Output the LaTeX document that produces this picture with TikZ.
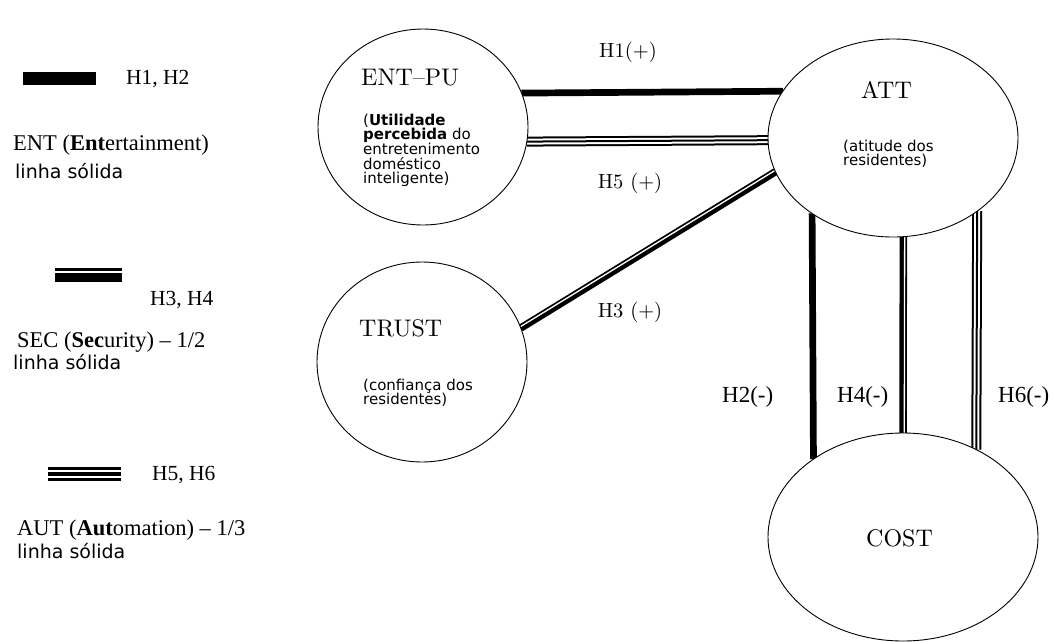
\documentclass[tikz,border=0pt]{standalone}
\usepackage{fontspec}
\newfontfamily\tms{Liberation Serif}
\newfontfamily\dvs{DejaVu Sans}
\newfontfamily\cmr{lmroman10-regular}[Extension=.otf, BoldFont=lmroman10-bold]
\usetikzlibrary{shapes.geometric,backgrounds}

% multi-line gloss whose baseline is that of its first line
\newcommand{\glosslines}[1]{\parbox[t]{200pt}{\raggedright\lineskiplimit=-50pt\relax #1}}

\tikzset{
  construct/.style={ellipse, draw=black, line width=0.9pt, fill=white, inner sep=0pt, outer sep=0pt},
  title/.style={anchor=base west, inner sep=0pt, font=\cmr\fontsize{24}{28}\selectfont},
  gloss/.style={anchor=base west, inner sep=0pt, font=\dvs\fontsize{15}{14.7}\selectfont},
  hyplabel/.style={anchor=base, inner sep=0pt, font=\cmr\fontsize{20.5}{24}\selectfont},
  neglabel/.style={anchor=base west, inner sep=0pt, font=\tms\fontsize{23}{27}\selectfont},
  legkey/.style={anchor=base west, inner sep=0pt, font=\tms\fontsize{21.5}{25}\selectfont},
  legname/.style={anchor=base west, inner sep=0pt, font=\tms\fontsize{22.5}{26}\selectfont},
  legnote/.style={anchor=base west, inner sep=0pt, font=\dvs\fontsize{19}{23}\selectfont},
  entline/.style={draw=black, line width=6.7pt},
  secline/.style={draw=black, line width=7.5pt},
  secgap/.style={draw=white, line width=1.3pt},
  autline/.style={draw=black, line width=10pt,
    postaction={draw=white, line width=6pt},
    postaction={draw=black, line width=2pt}},
}

\begin{document}
\begin{tikzpicture}[x=1pt, y=-1pt]
\useasboundingbox (0,0) rectangle (1053,641);

% ---- legend ----
\fill[black] (23,72) rectangle (96,85);
\node[legkey] (k1) at (126,84) {H1, H2};
\node[legname] (n1) at (13,150) {ENT (\textbf{Ent}ertainment)};
\node[legnote] (s1) at (15,178) {linha sólida};

\fill[black] (55,268) rectangle (122,282);
\fill[white] (55,270.5) rectangle (122,272.5);
\node[legkey] (k2) at (150,305) {H3, H4};
\node[legname] (n2) at (17,347) {SEC (\textbf{Sec}urity) – 1/2};
\node[legnote] (s2) at (13,369) {linha sólida};

\fill[black] (48,467) rectangle (121,481);
\fill[white] (48,470) rectangle (121,471.7);
\fill[white] (48,476.3) rectangle (121,478);
\node[legkey] (k3) at (152,480) {H5, H6};
\node[legname] (n3) at (17,535) {AUT (\textbf{Aut}omation) – 1/3};
\node[legnote] (s3) at (17,558) {linha sólida};

% ---- constructs ----
\node[construct, minimum width=210pt, minimum height=196pt] (entpu) at (423,127) {};
\node[construct, minimum width=250pt, minimum height=198pt] (att) at (893,138) {};
\node[construct, minimum width=210pt, minimum height=200pt] (trust) at (422,362) {};
\node[construct, minimum width=270pt, minimum height=208pt] (cost) at (903,537) {};

\node[title] (entT) at (361,85) {ENT–PU};
\node[gloss] (entG) at (363,125) {\glosslines{(\textbf{Utilidade}\\ \textbf{percebida} do\\ entretenimento\\ doméstico\\ inteligente)}};

\node[title] (attT) at (861,98) {ATT};
\node[gloss] (attG) at (843,151) {\glosslines{(atitude dos\\ residentes)}};

\node[title] (trustT) at (359,336) {TRUST};
\node[gloss] (trustG) at (363,390) {\glosslines{(confiança dos\\ residentes)}};

\node[title] (costT) at (866,546) {COST};

% ---- hypotheses (paths) ----
\begin{pgfonlayer}{background}
  \draw[entline] (entpu.19.6) -- (att.157.4);
  \draw[entline] (att.223.56) -- (cost.139.27);

  \draw[secline] (trust.19) -- (att.196.2);
  \draw[secgap, transform canvas={shift={(-0.68pt,1.11pt)}}] (trust.19) -- (att.196.2);
  \draw[secline] (att.-84.8) -- (cost.90.55);
  \draw[secgap, transform canvas={xshift=1.3pt}] (att.-84.8) -- (cost.90.55);

  \draw[autline] (entpu.-8.2) -- (att.181.8);
  \draw[autline] (att.-41.7) -- (cost.50.2);
\end{pgfonlayer}

\node[hyplabel] (h1) at (628,57) {H1(+)};
\node[hyplabel] (h5) at (630,188) {H5 (+)};
\node[hyplabel] (h3) at (630,317) {H3 (+)};
\node[neglabel] (h2) at (722,402) {H2(-)};
\node[neglabel] (h4) at (837,402) {H4(-)};
\node[neglabel] (h6) at (998,402) {H6(-)};
\end{tikzpicture}
\end{document}
